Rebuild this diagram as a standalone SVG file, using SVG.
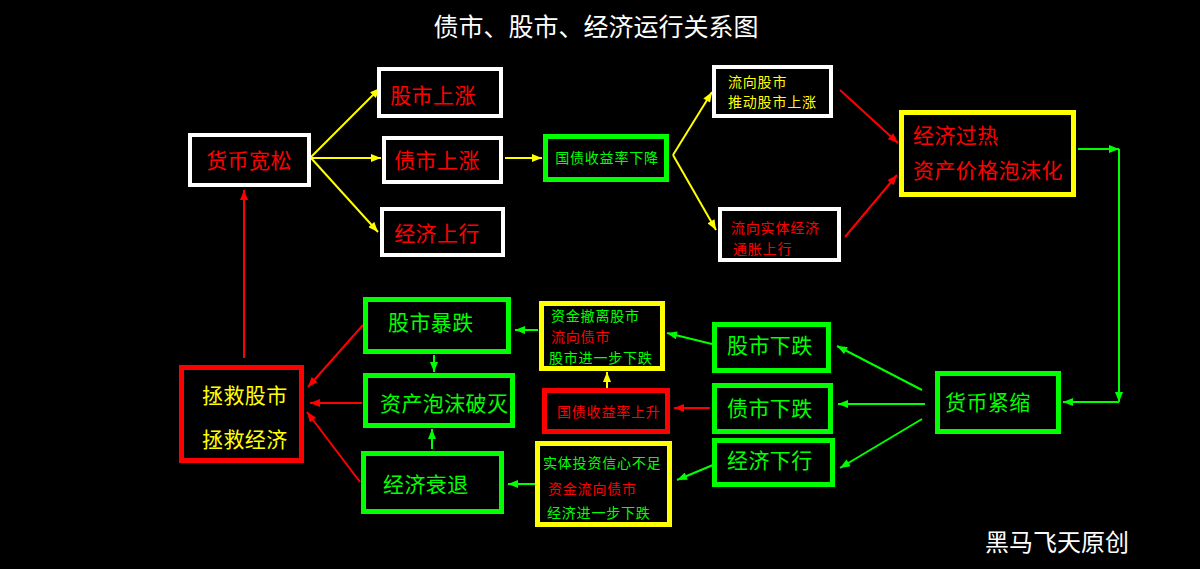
<svg xmlns="http://www.w3.org/2000/svg" width="1200" height="569" viewBox="0 0 1200 569">
<style>
.bw{fill:#000;stroke:#fff;stroke-width:4}
.bg{fill:#000;stroke:#00ff00;stroke-width:5}
.by{fill:#000;stroke:#ffff00;stroke-width:5}
.br{fill:#000;stroke:#ff0000;stroke-width:5}
text{font-family:"Noto Sans CJK SC","Noto Sans CJK TC",sans-serif;dominant-baseline:central}
.L{font-size:21px;letter-spacing:0.4px}
.S{font-size:14px;letter-spacing:0.8px}
.tr{fill:#ff0000}.ty{fill:#ffff00}.tg{fill:#00ff00}.tw{fill:#fff}
.cy{stroke:#ffff00;stroke-width:2;fill:none;marker-end:url(#ay)}
.cr{stroke:#ff0000;stroke-width:2;fill:none;marker-end:url(#ar)}
.cg{stroke:#00ff00;stroke-width:2;fill:none;marker-end:url(#ag)}
</style>
<defs>
<marker id="ay" viewBox="0 0 10 8" refX="10" refY="4" markerWidth="11" markerHeight="8" markerUnits="userSpaceOnUse" orient="auto"><path d="M0,0 L10,4 L0,8 z" fill="#ffff00"/></marker>
<marker id="ar" viewBox="0 0 10 8" refX="10" refY="4" markerWidth="11" markerHeight="8" markerUnits="userSpaceOnUse" orient="auto"><path d="M0,0 L10,4 L0,8 z" fill="#ff0000"/></marker>
<marker id="ag" viewBox="0 0 10 8" refX="10" refY="4" markerWidth="11" markerHeight="8" markerUnits="userSpaceOnUse" orient="auto"><path d="M0,0 L10,4 L0,8 z" fill="#00ff00"/></marker>
</defs>
<rect width="1200" height="569" fill="#000"/>
<text x="596" y="25" class="tw" font-size="25" text-anchor="middle">债市、股市、经济运行关系图</text>
<text x="1057" y="540" class="tw" font-size="24" text-anchor="middle">黑马飞天原创</text>

<g id="connectors">
<line class="cy" x1="311" y1="157" x2="380" y2="88"/>
<line class="cy" x1="311" y1="158" x2="381" y2="158"/>
<line class="cy" x1="311" y1="158" x2="378" y2="232"/>
<line class="cy" x1="505" y1="158" x2="542" y2="158"/>
<line class="cy" x1="673" y1="155" x2="712" y2="92"/>
<line class="cy" x1="673" y1="155" x2="716" y2="230"/>
<line class="cy" x1="607" y1="388" x2="607" y2="372"/>
<line class="cr" x1="840" y1="90" x2="898" y2="143"/>
<line class="cr" x1="845" y1="237" x2="897" y2="175"/>
<line class="cr" x1="710" y1="408" x2="674" y2="408"/>
<line class="cr" x1="363" y1="325" x2="308" y2="387"/>
<line class="cr" x1="362" y1="403" x2="310" y2="403"/>
<line class="cr" x1="360" y1="482" x2="307" y2="412"/>
<line class="cr" x1="244" y1="358" x2="244" y2="190"/>
<line class="cg" x1="1078" y1="149" x2="1119" y2="149"/>
<line class="cg" x1="1119" y1="149" x2="1119" y2="402"/>
<line class="cg" x1="1119" y1="402" x2="1063" y2="402"/>
<line class="cg" x1="922" y1="390" x2="837" y2="346"/>
<line class="cg" x1="925" y1="404" x2="838" y2="404"/>
<line class="cg" x1="922" y1="419" x2="840" y2="468"/>
<line class="cg" x1="712" y1="344" x2="667" y2="333"/>
<line class="cg" x1="713" y1="465" x2="677" y2="480"/>
<line class="cg" x1="538" y1="330" x2="515" y2="330"/>
<line class="cg" x1="535" y1="484" x2="508" y2="484"/>
<line class="cg" x1="434" y1="355" x2="434" y2="372"/>
<line class="cg" x1="432" y1="449" x2="432" y2="429"/>
</g>

<g id="n1"><rect class="bw" x="190" y="135" width="119" height="50"/><text class="L tr" x="249" y="159" text-anchor="middle">货币宽松</text></g>
<g id="n2"><rect class="bw" x="379" y="69" width="122" height="47"/><text class="L tr" x="433" y="94" text-anchor="middle">股市上涨</text></g>
<g id="n3"><rect class="bw" x="384" y="138" width="117" height="44"/><text class="L tr" x="437" y="159" text-anchor="middle">债市上涨</text></g>
<g id="n4"><rect class="bw" x="382" y="209" width="121" height="46"/><text class="L tr" x="437" y="232" text-anchor="middle">经济上行</text></g>
<g id="n5"><rect class="bg" x="545.5" y="136.5" width="121" height="43"/><text class="S tg" x="607" y="157" text-anchor="middle">国债收益率下降</text></g>
<g id="n6"><rect class="bw" x="714" y="67" width="117" height="49"/><text class="S ty" x="728" y="81">流向股市</text><text class="S ty" x="728" y="101">推动股市上涨</text></g>
<g id="n7"><rect class="bw" x="720" y="209" width="119" height="51"/><text class="S tr" x="731" y="227">流向实体经济</text><text class="S tr" x="733" y="248">通胀上行</text></g>
<g id="n8"><rect class="by" x="901.5" y="112.5" width="172" height="82"/><text class="L tr" x="913" y="134">经济过热</text><text class="L tr" x="913" y="169">资产价格泡沫化</text></g>
<g id="n9"><rect class="bg" x="937.5" y="373.5" width="121" height="58"/><text class="L tg" x="945" y="401">货币紧缩</text></g>
<g id="n10"><rect class="bg" x="714.5" y="324.5" width="114" height="46"/><text class="L tg" x="727" y="344">股市下跌</text></g>
<g id="n11"><rect class="bg" x="714.5" y="385.5" width="116" height="46"/><text class="L tg" x="727" y="407">债市下跌</text></g>
<g id="n12"><rect class="bg" x="714.5" y="440.5" width="118" height="44"/><text class="L tg" x="727" y="459">经济下行</text></g>
<g id="n13"><rect class="by" x="541.5" y="303.5" width="121" height="65"/><text class="S tg" x="551" y="315">资金撤离股市</text><text class="S tr" x="551" y="336">流向债市</text><text class="S tg" x="549" y="357">股市进一步下跌</text></g>
<g id="n14"><rect class="br" x="544.5" y="390.5" width="123" height="41"/><text class="S tr" x="557" y="411">国债收益率上升</text></g>
<g id="n15"><rect class="by" x="537.5" y="443.5" width="132" height="81"/><text class="S tg" x="543" y="462">实体投资信心不足</text><text class="S tr" x="548" y="488">资金流向债市</text><text class="S tg" x="547" y="512">经济进一步下跌</text></g>
<g id="n16"><rect class="bg" x="365.5" y="299.5" width="143" height="52"/><text class="L tg" x="388" y="321">股市暴跌</text></g>
<g id="n17"><rect class="bg" x="365.5" y="375.5" width="147" height="50"/><text class="L tg" x="380" y="402">资产泡沫破灭</text></g>
<g id="n18"><rect class="bg" x="363.5" y="453.5" width="138" height="58"/><text class="L tg" x="383" y="483">经济衰退</text></g>
<g id="n19"><rect class="br" x="181.5" y="367.5" width="120" height="93"/><text class="L ty" x="202" y="394">拯救股市</text><text class="L ty" x="202" y="438">拯救经济</text></g>
</svg>
